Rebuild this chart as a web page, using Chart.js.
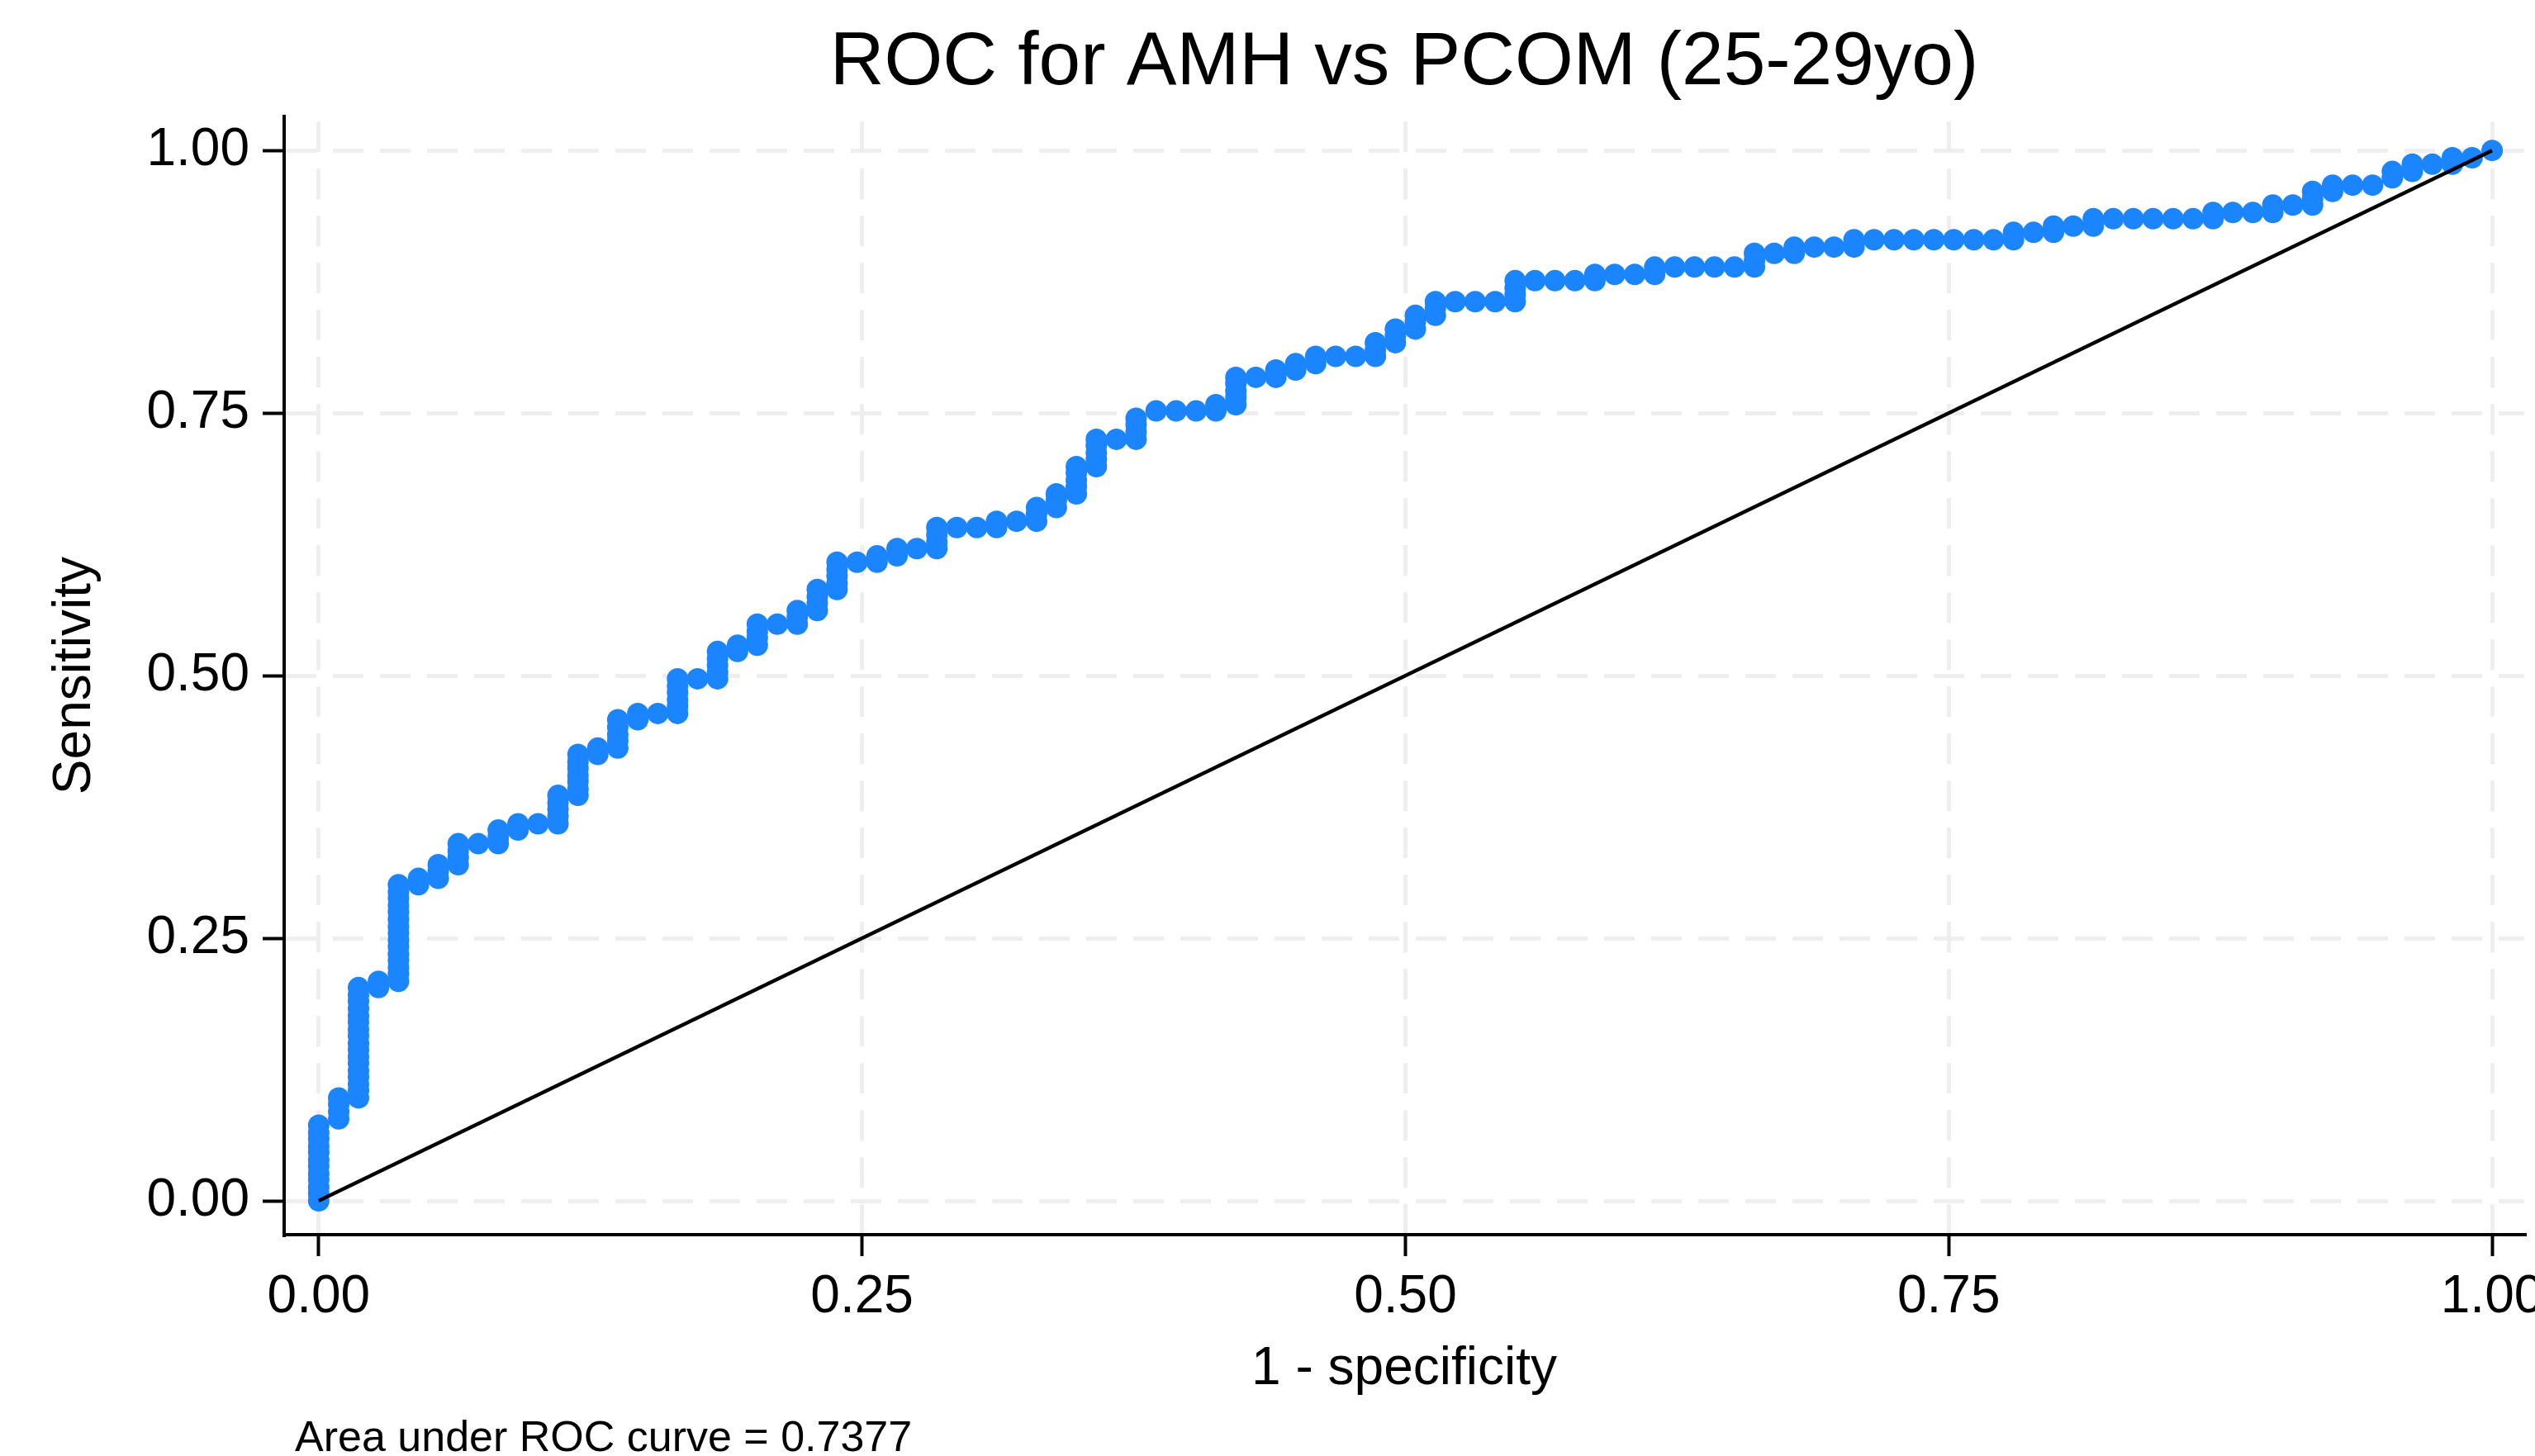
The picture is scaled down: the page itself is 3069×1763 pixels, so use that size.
<!DOCTYPE html>
<html>
<head>
<meta charset="utf-8">
<title>ROC for AMH vs PCOM (25-29yo)</title>
<script src="https://cdn.jsdelivr.net/npm/chart.js@4.4.1/dist/chart.umd.min.js"></script>
<style>
    html, body { margin: 0; padding: 0; background: #fff; overflow: hidden; }
    canvas { display: block; }
</style>
</head>
<body>
<canvas id="rocChart" width="3069" height="1763"></canvas>
<script>
// ROC points.
// fprSteps: each step in 1 - specificity, tprAtStep: sensitivity values plotted at that step
const fprSteps = [
    0, 0.0092, 0.0183, 0.0275, 0.0367, 0.0459, 0.0550, 0.0642, 0.0734, 0.0826,
    0.0917, 0.1009, 0.1101, 0.1193, 0.1284, 0.1376, 0.1468, 0.1560, 0.1651, 0.1743,
    0.1835, 0.1927, 0.2018, 0.2110, 0.2202, 0.2294, 0.2385, 0.2477, 0.2569, 0.2661,
    0.2752, 0.2844, 0.2936, 0.3028, 0.3119, 0.3211, 0.3303, 0.3394, 0.3486, 0.3578,
    0.3670, 0.3761, 0.3853, 0.3945, 0.4037, 0.4128, 0.4220, 0.4312, 0.4404, 0.4495,
    0.4587, 0.4679, 0.4771, 0.4862, 0.4954, 0.5046, 0.5138, 0.5229, 0.5321, 0.5413,
    0.5505, 0.5596, 0.5688, 0.5780, 0.5872, 0.5963, 0.6055, 0.6147, 0.6239, 0.6330,
    0.6422, 0.6514, 0.6606, 0.6697, 0.6789, 0.6881, 0.6972, 0.7064, 0.7156, 0.7248,
    0.7339, 0.7431, 0.7523, 0.7615, 0.7706, 0.7798, 0.7890, 0.7982, 0.8073, 0.8165,
    0.8257, 0.8349, 0.8440, 0.8532, 0.8624, 0.8716, 0.8807, 0.8899, 0.8991, 0.9083,
    0.9174, 0.9266, 0.9358, 0.9450, 0.9541, 0.9633, 0.9725, 0.9817, 0.9908, 1
];

const tprAtStep = [
    [0, 0.007, 0.013, 0.020, 0.026, 0.033, 0.039, 0.046, 0.052, 0.059, 0.065, 0.072],
    [0.078, 0.085, 0.092, 0.098],
    [0.098, 0.105, 0.111, 0.118, 0.124, 0.131, 0.137, 0.144, 0.150, 0.157, 0.163, 0.170, 0.176, 0.183, 0.190, 0.196, 0.203],
    [0.203, 0.209],
    [0.209, 0.216, 0.222, 0.229, 0.235, 0.242, 0.248, 0.255, 0.261, 0.268, 0.275, 0.281, 0.288, 0.294, 0.301],
    [0.301, 0.307],
    [0.307, 0.314, 0.320],
    [0.320, 0.327, 0.333, 0.340],
    [0.340],
    [0.340, 0.346, 0.353],
    [0.353, 0.359],
    [0.359],
    [0.359, 0.366, 0.373, 0.379, 0.386],
    [0.386, 0.392, 0.399, 0.405, 0.412, 0.418, 0.425],
    [0.425, 0.431],
    [0.431, 0.438, 0.444, 0.451, 0.458],
    [0.458, 0.464],
    [0.464],
    [0.464, 0.471, 0.477, 0.484, 0.490, 0.497],
    [0.497],
    [0.497, 0.503, 0.510, 0.516, 0.523],
    [0.523, 0.529],
    [0.529, 0.536, 0.542, 0.549],
    [0.549],
    [0.549, 0.556, 0.562],
    [0.562, 0.569, 0.575, 0.582],
    [0.582, 0.588, 0.595, 0.601, 0.608],
    [0.608],
    [0.608, 0.614],
    [0.614, 0.621],
    [0.621],
    [0.621, 0.627, 0.634, 0.641],
    [0.641],
    [0.641],
    [0.641, 0.647],
    [0.647],
    [0.647, 0.654, 0.660],
    [0.660, 0.667, 0.673],
    [0.673, 0.680, 0.686, 0.693, 0.699],
    [0.699, 0.706, 0.712, 0.719, 0.725],
    [0.725],
    [0.725, 0.732, 0.739, 0.745],
    [0.752],
    [0.752],
    [0.752],
    [0.752, 0.758],
    [0.758, 0.765, 0.771, 0.778, 0.784],
    [0.784],
    [0.784, 0.791],
    [0.791, 0.797],
    [0.797, 0.804],
    [0.804],
    [0.804],
    [0.804, 0.810, 0.817],
    [0.817, 0.824, 0.830],
    [0.830, 0.837, 0.843],
    [0.843, 0.850, 0.856],
    [0.856],
    [0.856],
    [0.856],
    [0.856, 0.863, 0.869, 0.876],
    [0.876],
    [0.876],
    [0.876],
    [0.876, 0.882],
    [0.882],
    [0.882],
    [0.882, 0.889],
    [0.889],
    [0.889],
    [0.889],
    [0.889],
    [0.889, 0.895, 0.902],
    [0.902],
    [0.902, 0.908],
    [0.908],
    [0.908],
    [0.908, 0.915],
    [0.915],
    [0.915],
    [0.915],
    [0.915],
    [0.915],
    [0.915],
    [0.915],
    [0.915, 0.922],
    [0.922],
    [0.922, 0.928],
    [0.928],
    [0.928, 0.935],
    [0.935],
    [0.935],
    [0.935],
    [0.935],
    [0.935],
    [0.935, 0.941],
    [0.941],
    [0.941],
    [0.941, 0.948],
    [0.948],
    [0.948, 0.954, 0.961],
    [0.961, 0.967],
    [0.967],
    [0.967],
    [0.974, 0.980],
    [0.980, 0.987],
    [0.987],
    [0.987, 0.993],
    [0.993],
    [1]
];

// chance line
const chanceX = [0, 1];
const chanceY = [0, 1];

const tickValues = [0, 0.25, 0.5, 0.75, 1];
const aucText = 'Area under ROC curve = 0.7377';

const FONT = '"Liberation Sans", Arial, Helvetica, sans-serif';
const ROC_BLUE = 'rgb(26, 133, 255)';

Chart.defaults.font.family = FONT;
Chart.defaults.color = '#000';

const rocPoints = [];
fprSteps.forEach((x, i) => {
    tprAtStep[i].forEach(y => rocPoints.push({ x: x, y: y }));
});
const chancePoints = chanceX.map((x, i) => ({ x: x, y: chanceY[i] }));

// Stata puts the AUC note under the graph, left aligned
const aucNote = {
    id: 'aucNote',
    afterDraw(chart) {
        const ctx = chart.ctx;
        ctx.save();
        ctx.font = '52px ' + FONT;
        ctx.fillStyle = '#000';
        ctx.textAlign = 'left';
        ctx.textBaseline = 'alphabetic';
        ctx.fillText(aucText, chart.chartArea.left + 13, 1757);
        ctx.restore();
    }
};

function fixedTicks(scale) {
    scale.ticks = tickValues.map(v => ({ value: v }));
}

const gridOpts = {
    color: '#eeeeee',
    lineWidth: 5,
    tickLength: 26,
    tickWidth: 4,
    tickColor: '#000',
    tickBorderDash: []
};

const ctx = document.getElementById('rocChart').getContext('2d');
new Chart(ctx, {
    type: 'scatter',
    data: {
        datasets: [{
            label: 'Reference',
            data: chancePoints,
            showLine: true,
            borderColor: '#000',
            borderWidth: 4.5,
            pointRadius: 0,
            fill: false
        }, {
            label: 'Sensitivity',
            data: rocPoints,
            showLine: true,
            borderColor: ROC_BLUE,
            backgroundColor: ROC_BLUE,
            borderWidth: 3,
            pointRadius: 13,
            pointBorderWidth: 0,
            pointHoverRadius: 13,
            fill: false
        }]
    },
    options: {
        responsive: false,
        animation: false,
        devicePixelRatio: 1,
        layout: {
            padding: { left: 0, right: 6, top: 0, bottom: 0 }
        },
        plugins: {
            legend: { display: false },
            tooltip: { enabled: false },
            title: {
                display: true,
                text: 'ROC for AMH vs PCOM (25-29yo)',
                fullSize: false,
                color: '#000',
                font: { size: 91, weight: 'normal' },
                padding: { top: 22, bottom: 10 }
            }
        },
        scales: {
            x: {
                type: 'linear',
                min: -0.0159,
                max: 1.0148,
                afterBuildTicks: fixedTicks,
                afterFit(scale) {
                    scale.height = 268;
                    scale.paddingLeft = 0;
                    scale.paddingRight = 0;
                },
                grid: gridOpts,
                border: { color: '#000', width: 4, dash: [37, 20], dashOffset: 51 },
                ticks: {
                    font: { size: 64 },
                    padding: 12,
                    maxRotation: 0,
                    callback: v => v.toFixed(2)
                },
                title: {
                    display: true,
                    text: '1 - specificity',
                    font: { size: 64 },
                    padding: { top: 0, bottom: 66 }
                }
            },
            y: {
                type: 'linear',
                min: -0.0322,
                max: 1.0322,
                afterBuildTicks: fixedTicks,
                afterFit(scale) {
                    scale.width = 344;
                    scale.paddingTop = 0;
                    scale.paddingBottom = 0;
                },
                grid: gridOpts,
                border: { color: '#000', width: 4, dash: [37, 20] },
                ticks: {
                    font: { size: 64 },
                    padding: 16,
                    callback: v => v.toFixed(2)
                },
                title: {
                    display: true,
                    text: 'Sensitivity',
                    font: { size: 64 },
                    padding: { top: 53, bottom: 0 }
                }
            }
        }
    },
    plugins: [aucNote]
});
</script>
</body>
</html>
